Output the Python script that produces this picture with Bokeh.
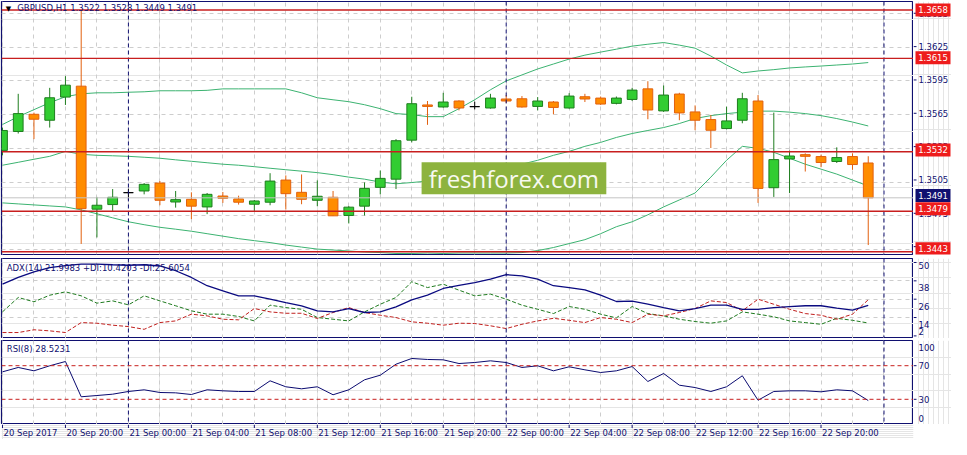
from bokeh.plotting import figure
from bokeh.layouts import column, row
from bokeh.models import (ColumnDataSource, Range1d, FixedTicker, Grid, Span, Label,
                          BoxAnnotation)
from bokeh.core.properties import value
from bokeh.embed import file_html
from bokeh.resources import INLINE

# ---------------- data ----------------
symbol_title = "GBPUSD,H1  1.3522 1.3528 1.3449 1.3491"
adx_title = "ADX(14) 21.9983 +DI:10.4203 -DI:25.6054"
rsi_title = "RSI(8) 28.5231"
watermark = "freshforex.com"

time_labels = ["20 Sep 2017", "20 Sep 20:00", "21 Sep 00:00", "21 Sep 04:00", "21 Sep 08:00",
               "21 Sep 12:00", "21 Sep 16:00", "21 Sep 20:00", "22 Sep 00:00", "22 Sep 04:00",
               "22 Sep 08:00", "22 Sep 12:00", "22 Sep 16:00", "22 Sep 20:00"]
time_label_bars = [0, 4, 8, 12, 16, 20, 24, 28, 32, 36, 40, 44, 48, 52]
day_separator_bars = [8, 32, 56]

opens = [1.35332, 1.35500, 1.35653, 1.35600, 1.35806, 1.35903, 1.34809, 1.34850, 1.34956, 1.34971,
         1.35041, 1.34873, 1.34897, 1.34829, 1.34926, 1.34900, 1.34853, 1.34871, 1.35068, 1.34959,
         1.34888, 1.34915, 1.34753, 1.34836, 1.35003, 1.35076, 1.35423, 1.35736, 1.35718, 1.35771,
         1.35721, 1.35709, 1.35789, 1.35791, 1.35723, 1.35762, 1.35709, 1.35809, 1.35797, 1.35750,
         1.35785, 1.35879, 1.35683, 1.35833, 1.35674, 1.35606, 1.35526, 1.35600, 1.35771, 1.35000,
         1.35256, 1.35294, 1.35277, 1.35233, 1.35277, 1.35220]
highs = [1.35535, 1.35835, 1.35668, 1.35888, 1.35992, 1.36580, 1.34918, 1.34988, 1.34991, 1.35041,
         1.35059, 1.34971, 1.34959, 1.34953, 1.34962, 1.34929, 1.34891, 1.35129, 1.35109, 1.35118,
         1.35065, 1.34971, 1.34836, 1.35047, 1.35153, 1.35432, 1.35809, 1.35771, 1.35844, 1.35778,
         1.35765, 1.35835, 1.35824, 1.35815, 1.35806, 1.35771, 1.35841, 1.35835, 1.35811, 1.35811,
         1.35888, 1.35947, 1.35909, 1.35844, 1.35732, 1.35647, 1.35721, 1.35844, 1.35824, 1.35668,
         1.35330, 1.35306, 1.35294, 1.35359, 1.35306, 1.35280]
lows = [1.35288, 1.35482, 1.35432, 1.35535, 1.35736, 1.34500, 1.34558, 1.34794, 1.34888, 1.34941,
        1.34844, 1.34823, 1.34721, 1.34765, 1.34865, 1.34850, 1.34794, 1.34844, 1.34806, 1.34853,
        1.34836, 1.34748, 1.34682, 1.34753, 1.34941, 1.34988, 1.35403, 1.35559, 1.35712, 1.35688,
        1.35697, 1.35703, 1.35753, 1.35712, 1.35688, 1.35653, 1.35703, 1.35762, 1.35736, 1.35741,
        1.35771, 1.35609, 1.35674, 1.35600, 1.35511, 1.35353, 1.35518, 1.35573, 1.34865, 1.34918,
        1.34953, 1.35144, 1.35182, 1.35220, 1.35159, 1.34490]
closes = [1.35509, 1.35659, 1.35609, 1.35800, 1.35912, 1.34814, 1.34844, 1.34915, 1.34956, 1.35030,
          1.34888, 1.34894, 1.34836, 1.34941, 1.34906, 1.34871, 1.34882, 1.35059, 1.34947, 1.34897,
          1.34924, 1.34750, 1.34827, 1.34994, 1.35083, 1.35418, 1.35747, 1.35723, 1.35762, 1.35709,
          1.35721, 1.35797, 1.35771, 1.35718, 1.35771, 1.35714, 1.35815, 1.35789, 1.35744, 1.35797,
          1.35868, 1.35691, 1.35824, 1.35665, 1.35600, 1.35511, 1.35594, 1.35791, 1.34994, 1.35250,
          1.35282, 1.35279, 1.35224, 1.35268, 1.35206, 1.34910]

bb_upper = [1.35562, 1.35632, 1.35694, 1.35756, 1.35809, 1.35835, 1.35844, 1.35844, 1.35849, 1.35853,
            1.35862, 1.35862, 1.35862, 1.35866, 1.35879, 1.35879, 1.35879, 1.35879, 1.35879, 1.35844,
            1.35800, 1.35782, 1.35765, 1.35738, 1.35703, 1.35659, 1.35650, 1.35632, 1.35632, 1.35703,
            1.35782, 1.35871, 1.35950, 1.36003, 1.36056, 1.36100, 1.36144, 1.36179, 1.36206, 1.36232,
            1.36259, 1.36276, 1.36291, 1.36268, 1.36241, 1.36171, 1.36091, 1.36021, 1.36038, 1.36050,
            1.36065, 1.36074, 1.36082, 1.36091, 1.36100, 1.36113]
bb_middle = [1.35200, 1.35226, 1.35253, 1.35279, 1.35323, 1.35297, 1.35288, 1.35284, 1.35279, 1.35271,
             1.35262, 1.35248, 1.35235, 1.35222, 1.35209, 1.35200, 1.35187, 1.35173, 1.35160, 1.35147,
             1.35134, 1.35116, 1.35094, 1.35076, 1.35050, 1.35035, 1.35046, 1.35059, 1.35076, 1.35094,
             1.35121, 1.35147, 1.35173, 1.35209, 1.35244, 1.35288, 1.35323, 1.35368, 1.35403, 1.35447,
             1.35482, 1.35509, 1.35535, 1.35571, 1.35615, 1.35641, 1.35659, 1.35672, 1.35681, 1.35681,
             1.35672, 1.35659, 1.35641, 1.35615, 1.35584, 1.35549]
bb_lower = [1.34865, 1.34856, 1.34847, 1.34838, 1.34829, 1.34803, 1.34768, 1.34732, 1.34697, 1.34671,
            1.34648, 1.34631, 1.34613, 1.34591, 1.34569, 1.34547, 1.34529, 1.34512, 1.34490, 1.34472,
            1.34454, 1.34446, 1.34437, 1.34428, 1.34423, 1.34415, 1.34415, 1.34419, 1.34415, 1.34419,
            1.34419, 1.34419, 1.34419, 1.34423, 1.34441, 1.34468, 1.34503, 1.34538, 1.34591, 1.34653,
            1.34697, 1.34759, 1.34829, 1.34891, 1.34953, 1.35094, 1.35244, 1.35368, 1.35350, 1.35315,
            1.35262, 1.35209, 1.35165, 1.35121, 1.35068, 1.35015]

adx = [35.8, 40.2, 43.9, 46.7, 48.0, 48.9, 48.9, 48.5, 48.2, 48.5,
       47.7, 44.6, 40.2, 34.8, 31.5, 28.2, 28.2, 26.0, 23.8, 21.7,
       18.4, 17.7, 19.9, 17.3, 17.7, 21.0, 25.6, 28.6, 33.0, 35.1,
       36.9, 39.1, 42.0, 41.3, 39.1, 34.8, 33.6, 32.1, 28.6, 24.5,
       24.7, 22.7, 20.5, 18.4, 19.9, 22.1, 22.1, 19.4, 19.4, 20.5,
       21.2, 21.7, 21.7, 20.1, 18.8, 22.0]
plus_di = [17.7, 27.1, 24.3, 28.6, 30.8, 28.2, 23.4, 24.9, 22.3, 28.2,
           24.9, 21.7, 18.4, 16.2, 16.2, 14.7, 11.8, 22.1, 20.5, 19.4,
           14.0, 12.9, 11.8, 17.7, 22.7, 27.1, 37.4, 33.6, 35.8, 31.9,
           28.2, 29.3, 26.0, 22.1, 19.4, 16.6, 21.2, 19.4, 16.2, 13.8,
           21.2, 16.6, 15.1, 12.9, 11.4, 10.3, 11.8, 17.7, 16.2, 14.5,
           11.8, 10.7, 9.6, 13.5, 12.2, 10.42]
minus_di = [4.2, 4.2, 6.0, 5.3, 4.2, 10.7, 10.3, 9.0, 8.1, 6.3,
            10.7, 11.8, 16.2, 15.1, 12.9, 12.5, 19.9, 17.7, 16.8, 16.8,
            13.4, 17.3, 20.5, 17.3, 15.5, 14.0, 11.2, 10.3, 9.0, 10.3,
            10.1, 8.6, 6.8, 9.6, 11.8, 13.5, 12.2, 10.7, 14.0, 12.9,
            10.7, 16.2, 15.1, 17.3, 19.9, 24.9, 23.8, 18.4, 26.0, 22.7,
            19.4, 16.6, 15.5, 12.9, 16.2, 25.61]
rsi = [62.7, 67.9, 63.9, 69.9, 75.0, 33.0, 34.5, 36.1, 39.3, 41.3,
       38.1, 37.7, 35.7, 41.3, 40.1, 39.3, 39.3, 52.0, 44.9, 42.5,
       44.9, 35.4, 41.3, 53.2, 58.7, 71.8, 78.6, 77.4, 77.0, 72.6,
       73.8, 75.8, 73.8, 67.9, 69.9, 63.9, 68.7, 65.1, 61.9, 63.9,
       69.0, 51.2, 60.7, 46.8, 44.0, 39.3, 44.9, 58.0, 28.9, 39.3,
       40.1, 40.1, 38.9, 41.3, 40.1, 28.52]

level_prices = [1.3658, 1.3615, 1.3532, 1.3479, 1.3443]
last_price = 1.3491
price_ticks = [1.3445, 1.3475, 1.3505, 1.3535, 1.3565, 1.3595, 1.3625, 1.3655]
adx_ticks = [50, 38, 26, 14, 2]
adx_grid = [38, 26, 14]
rsi_levels = [70, 30]
rsi_axis_values = [100, 70, 30, 0]

# ---------------- style ----------------
FONT = "DejaVu Sans"
FS = "8.5px"
NAVY = "#101070"
GRID = "#cdcdcd"
BULL_FILL, BULL_LINE = "#32cd32", "#1e7d1e"
BEAR_FILL, BEAR_LINE = "#ff8c00", "#e2600e"
LEVEL_RED = "#c81e1e"
BOX_RED = "#ee1c1c"
BAND = "#3cb371"

SIDE = 38
PW = 913
XR = Range1d(-0.0625, 57.875)
bars = list(range(len(opens)))
grid_bars = list(range(0, 58, 2))

MAIN_H, ADX_H, RSI_H = 253, 80, 84
MAIN_T, ADX_T, RSI_T = 1, 1, 2
GAP = 3           # space between main panel and ADX panel
PRICE_R = Range1d(1.34406, 1.36656)
ADX_R = Range1d(0.3, 52.6)
RSI_R = Range1d(0, 100)


def px_to_units(rng, frame_h, px):
    return px * (rng.end - rng.start) / frame_h


def panel(frame_h, yr, top, bottom=0):
    f = figure(width=PW, height=frame_h + top + bottom, x_range=XR, y_range=yr,
               x_axis_location=None, y_axis_location=None, tools="", toolbar_location=None,
               output_backend="svg", min_border_left=1, min_border_right=0, min_border_top=top,
               min_border_bottom=bottom)
    f.background_fill_color = "white"
    f.border_fill_color = "white"
    f.outline_line_color = NAVY
    f.outline_line_width = 1.2
    f.add_layout(Grid(dimension=0, ticker=FixedTicker(ticks=grid_bars), grid_line_color=GRID,
                      grid_line_dash="4 4"))
    for b in day_separator_bars:
        f.add_layout(Span(location=b, dimension="height", line_color=NAVY, line_dash="4 3",
                          line_width=1))
    return f


def side(frame_h, yr, top, extra_below=0):
    # the price column shares the panel's scale; it may reach a few pixels below the panel
    ext = px_to_units(yr, frame_h, extra_below)
    r = Range1d(yr.start - ext, yr.end)
    s = figure(width=SIDE, height=frame_h + top + extra_below, x_range=Range1d(0, SIDE),
               y_range=r, x_axis_location=None, y_axis_location=None, tools="",
               toolbar_location=None, output_backend="svg", min_border_left=0,
               min_border_right=0, min_border_top=top, min_border_bottom=0)
    s.outline_line_color = None
    s.background_fill_color = "white"
    s.border_fill_color = "white"
    return s


def side_ticks(s, ticks):
    s.segment(x0=[0] * len(ticks), y0=ticks, x1=[3] * len(ticks), y1=ticks, line_color=NAVY,
              line_width=1)


def side_texts(s, ys, texts, color=NAVY, x=5, align="left"):
    s.text(x=[x] * len(ys), y=ys, text=texts, text_font=value(FONT), text_font_size=value(FS),
           text_color=color, text_align=align, text_baseline="middle")


# ---------------- main chart ----------------
p = panel(MAIN_H, PRICE_R, MAIN_T, bottom=GAP)
p.add_layout(Grid(dimension=1, ticker=FixedTicker(ticks=price_ticks), grid_line_color=GRID,
                  grid_line_dash="4 4"))
p.add_layout(Span(location=last_price, dimension="width", line_color="#c4c4c4", line_width=1))
for lv in level_prices:
    p.add_layout(Span(location=lv, dimension="width", line_color=LEVEL_RED, line_width=1.4))

p.line(bars, bb_upper, line_color=BAND, line_width=1)
p.line(bars, bb_middle, line_color=BAND, line_width=1)
p.line(bars, bb_lower, line_color=BAND, line_width=1)

body = dict(x=[], top=[], bottom=[], fill=[], line=[], h=[], l=[])
doji = dict(x=[], y=[], h=[], l=[])
for i in bars:
    o, h, l, c = opens[i], highs[i], lows[i], closes[i]
    if c == o:
        doji["x"].append(i); doji["y"].append(o); doji["h"].append(h); doji["l"].append(l)
        continue
    bull = c > o
    body["x"].append(i)
    body["top"].append(max(o, c))
    body["bottom"].append(min(o, c))
    body["fill"].append(BULL_FILL if bull else BEAR_FILL)
    body["line"].append(BULL_LINE if bull else BEAR_LINE)
    body["h"].append(h)
    body["l"].append(l)
bsrc = ColumnDataSource(body)
dsrc = ColumnDataSource(doji)
p.segment(x0="x", y0="h", x1="x", y1="l", line_color="line", line_width=1, source=bsrc)
p.vbar(x="x", width=0.62, top="top", bottom="bottom", fill_color="fill", line_color="line",
       line_width=1, source=bsrc)
p.segment(x0="x", y0="h", x1="x", y1="l", line_color="black", line_width=1, source=dsrc)
p.rect(x="x", y="y", width=0.62, height=0.000001, line_color="black", fill_color="black",
       source=dsrc)

# watermark
p.add_layout(BoxAnnotation(left=26.625, right=38.36, top=1.352265, bottom=1.349415,
                           fill_color="#8db33e", fill_alpha=1.0, line_color=None))
p.add_layout(Label(x=32.49, y=1.35084, text=watermark, text_font="Open Sans",
                   text_font_size="24px", text_color="#f7f9f0", text_align="center",
                   text_baseline="middle"))

# header
p.add_layout(Label(x=0.375, y=PRICE_R.end, y_offset=-3, text="\u25bc", text_font=FONT,
                   text_font_size="7px", text_color="black", text_align="center",
                   text_baseline="top"))
p.add_layout(Label(x=0.94, y=PRICE_R.end, y_offset=-1, text=symbol_title, text_font=FONT,
                   text_font_size=FS, text_color=NAVY, text_align="left", text_baseline="top"))

sp = side(MAIN_H, PRICE_R, MAIN_T, extra_below=GAP)
side_ticks(sp, price_ticks)
side_texts(sp, price_ticks, ["%.4f" % t for t in price_ticks])
box_prices = level_prices + [last_price]
box_colors = [BOX_RED] * len(level_prices) + [NAVY]
sp.rect(x=[19.5] * len(box_prices), y=box_prices, width=35, height=13, height_units="screen",
        fill_color=box_colors, line_color=None)
side_texts(sp, box_prices, ["%.4f" % v for v in box_prices], color="white", x=19.5,
           align="center")

# ---------------- ADX ----------------
pa = panel(ADX_H, ADX_R, ADX_T)
pa.add_layout(Grid(dimension=1, ticker=FixedTicker(ticks=adx_grid), grid_line_color=GRID,
                   grid_line_dash="4 4"))
pa.line(bars, plus_di, line_color="#1e7a1e", line_width=1, line_dash="4 2")
pa.line(bars, minus_di, line_color="#c0201e", line_width=1, line_dash="4 2")
pa.line(bars, adx, line_color="#0a0a80", line_width=1.3)
pa.add_layout(Label(x=0.27, y=46.7, text=adx_title, text_font=FONT, text_font_size=FS,
                    text_color=NAVY, text_align="left", text_baseline="middle"))

sa = side(ADX_H, ADX_R, ADX_T)
side_ticks(sa, adx_ticks)
adx_shift_px = {50: 3, 38: 7, 26: 7, 14: 7, 2: -4.5}
side_texts(sa, [t - px_to_units(ADX_R, ADX_H, adx_shift_px[t]) for t in adx_ticks],
           [str(t) for t in adx_ticks])

# ---------------- RSI ----------------
pr = panel(RSI_H, RSI_R, RSI_T)
for lv in rsi_levels:
    pr.add_layout(Span(location=lv, dimension="width", line_color="#c8201e", line_width=1,
                       line_dash="4 3"))
pr.line(bars, rsi, line_color="#0a0a70", line_width=1)
pr.add_layout(Label(x=0.27, y=90.1, text=rsi_title, text_font=FONT, text_font_size=FS,
                    text_color=NAVY, text_align="left", text_baseline="middle"))

sr = side(RSI_H, RSI_R, RSI_T)
side_ticks(sr, rsi_levels)
rsi_shift_px = {100: 6.5, 70: 0, 30: 0, 0: -6.5}
side_texts(sr, [t - px_to_units(RSI_R, RSI_H, rsi_shift_px[t]) for t in rsi_axis_values],
           [str(t) for t in rsi_axis_values])

# ---------------- time axis ----------------
pt = figure(width=PW + SIDE, height=15, x_range=XR, y_range=Range1d(0, 15), x_axis_location=None,
            y_axis_location=None, tools="", toolbar_location=None, output_backend="svg",
            min_border_left=1, min_border_right=SIDE, min_border_top=0, min_border_bottom=0)
pt.outline_line_color = None
pt.background_fill_color = "white"
pt.border_fill_color = "white"
pt.segment(x0=time_label_bars, y0=[15] * len(time_label_bars), x1=time_label_bars,
           y1=[11.5] * len(time_label_bars), line_color=NAVY, line_width=1)
pt.text(x=time_label_bars, y=[6.5] * len(time_label_bars), text=time_labels,
        text_font=value(FONT), text_font_size=value(FS), text_color=NAVY,
        text_align="left", text_baseline="middle", x_offset=1)

layout = column(row(p, sp, spacing=0), row(pa, sa, spacing=0), row(pr, sr, spacing=0), pt,
                spacing=0)
open("out.html", "w").write(file_html(layout, INLINE))
